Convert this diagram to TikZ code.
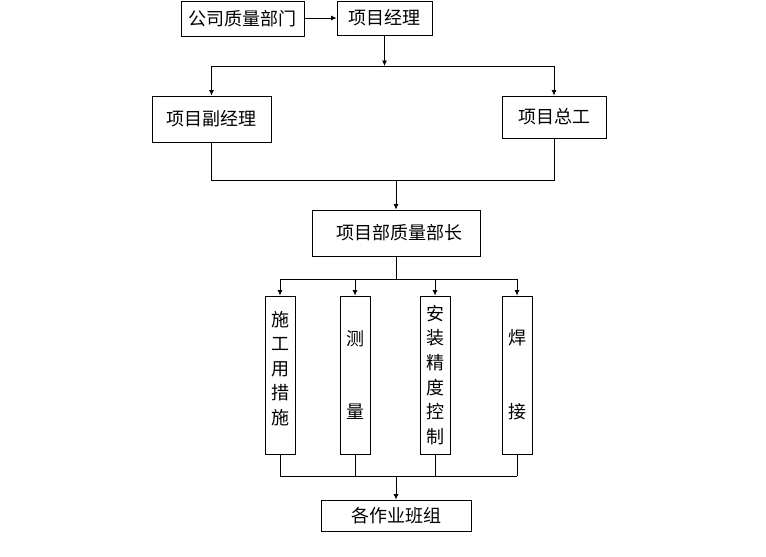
\documentclass[tikz,border=0pt]{standalone}
\usepackage{fontspec}
\setmainfont{Noto Sans CJK SC}
\usetikzlibrary{arrows.meta}
\begin{document}
\begin{tikzpicture}[x=1pt,y=-1pt,
  box/.style={draw,line width=0.9pt,inner sep=0pt,font=\fontsize{18}{20}\selectfont},
  vbox/.style={box,minimum width=30pt,minimum height=158pt,align=center,font=\fontsize{18}{24.6}\selectfont},
  arr/.style={-{Latex[length=5.5pt,width=5pt]},line width=0.8pt},
  ln/.style={line width=0.8pt}]
\useasboundingbox (0,0) rectangle (766,557);
\node[box,minimum width=123pt,minimum height=35pt] (qd) at (242.5,19) {公司质量部门};
\node[box,minimum width=95pt,minimum height=34pt] (pm) at (384.5,18) {项目经理};
\node[box,minimum width=119pt,minimum height=46pt] (dpm) at (211.5,119) {项目副经理};
\node[box,minimum width=104pt,minimum height=42pt] (ce) at (554,117) {项目总工};
\node[box,minimum width=168pt,minimum height=46pt] (qm) at (396,233) {\hspace{6pt}项目部质量部长};
\node[vbox] (v1) at (280,375) {施\\工\\用\\措\\施\\[-10pt]\mbox{}};
\node[vbox] (v2) at (355,375) {测\\[49pt]量};
\node[vbox] (v3) at (435,375) {安\\装\\精\\度\\控\\制};
\node[vbox] (v4) at (517,375) {焊\\[49pt]接};
\node[box,minimum width=150pt,minimum height=31pt] (tm) at (396,515.5) {各作业班组};
\coordinate (s1) at (384.5,66);
\coordinate (s2) at (396,180);
\coordinate (s3) at (396,279);
\coordinate (s4) at (396,476);
\draw[arr] (qd.east |- pm.west) -- (pm.west);
\draw[arr] (pm.south) -- (s1);
\draw[ln] (dpm.north |- s1) -- (ce.north |- s1);
\draw[arr] (dpm.north |- s1) -- (dpm.north);
\draw[arr] (ce.north |- s1) -- (ce.north);
\draw[ln] (dpm.south) -- (dpm.south |- s2) -- (ce.south |- s2) -- (ce.south);
\draw[arr] (s2) -- (qm.north);
\draw[ln] (qm.south) -- (s3);
\draw[ln] (v1.north |- s3) -- (v4.north |- s3);
\foreach \v in {v1,v2,v3,v4}{
  \draw[arr] (\v.north |- s3) -- (\v.north);
  \draw[ln] (\v.south) -- (\v.south |- s4);
}
\draw[ln] (v1.south |- s4) -- (v4.south |- s4);
\draw[arr] (s4) -- (tm.north);
\end{tikzpicture}
\end{document}
